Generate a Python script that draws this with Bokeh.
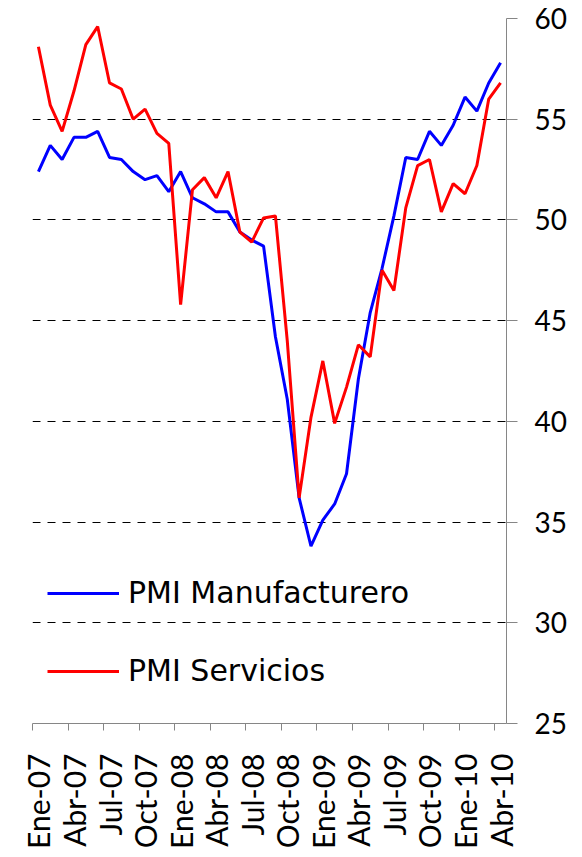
import math
from bokeh.plotting import figure
from bokeh.models import Range1d, FixedTicker, Legend, LegendItem
from bokeh.embed import file_html
from bokeh.resources import INLINE

months = [
    "Ene-07", "Feb-07", "Mar-07", "Abr-07", "May-07", "Jun-07", "Jul-07", "Ago-07", "Sep-07", "Oct-07", "Nov-07", "Dic-07",
    "Ene-08", "Feb-08", "Mar-08", "Abr-08", "May-08", "Jun-08", "Jul-08", "Ago-08", "Sep-08", "Oct-08", "Nov-08", "Dic-08",
    "Ene-09", "Feb-09", "Mar-09", "Abr-09", "May-09", "Jun-09", "Jul-09", "Ago-09", "Sep-09", "Oct-09", "Nov-09", "Dic-09",
    "Ene-10", "Feb-10", "Mar-10", "Abr-10",
]

manufacturing = [
    52.4, 53.7, 53.0, 54.1, 54.1, 54.4, 53.1, 53.0, 52.4, 52.0, 52.2, 51.4,
    52.4, 51.1, 50.8, 50.4, 50.4, 49.4, 49.0, 48.7, 44.2, 41.1, 36.2, 33.8,
    35.1, 35.9, 37.4, 42.1, 45.4, 47.6, 50.2, 53.1, 53.0, 54.4, 53.7, 54.7,
    56.1, 55.4, 56.8, 57.8,
]

services = [
    58.6, 55.7, 54.4, 56.4, 58.7, 59.6, 56.8, 56.5, 55.0, 55.5, 54.3, 53.8,
    45.8, 51.5, 52.1, 51.1, 52.4, 49.4, 48.9, 50.1, 50.2, 44.0, 36.2, 40.2,
    43.0, 39.9, 41.7, 43.8, 43.2, 47.5, 46.5, 50.6, 52.7, 53.0, 50.4, 51.8,
    51.3, 52.7, 56.0, 56.8,
]

y_ticks = [25, 30, 35, 40, 45, 50, 55, 60]
label_every = 3

x = list(range(len(months)))
label_pos = list(range(0, len(months), label_every))
boundary_pos = [i - 0.5 for i in label_pos]

FONT = "Lato"
AXIS_GREY = "#868686"

p = figure(
    width=574, height=853,
    output_backend="svg", toolbar_location=None,
    x_range=Range1d(-0.5, len(months) - 0.5),
    y_range=Range1d(25, 60),
    y_axis_location="right",
    min_border_left=32, min_border_top=18, min_border_right=68, min_border_bottom=130,
)
p.outline_line_color = None
p.background_fill_color = "white"
p.border_fill_color = "white"

# x axis
xa = p.xaxis[0]
xa.ticker = FixedTicker(ticks=label_pos, minor_ticks=boundary_pos)
xa.major_label_overrides = {i: months[i] for i in label_pos}
xa.major_label_orientation = math.pi / 2
xa.major_tick_line_color = None
xa.major_tick_out = 7
xa.major_tick_in = 0
xa.minor_tick_line_color = AXIS_GREY
xa.minor_tick_out = 7
xa.minor_tick_in = 0
xa.axis_line_color = AXIS_GREY
xa.major_label_standoff = 23
xa.major_label_text_font = FONT
xa.major_label_text_font_size = "30px"
xa.major_label_text_color = "black"

# y axis
ya = p.yaxis[0]
ya.ticker = FixedTicker(ticks=y_ticks)
ya.minor_tick_line_color = None
ya.major_tick_line_color = AXIS_GREY
ya.major_tick_out = 11
ya.major_tick_in = 0
ya.axis_line_color = AXIS_GREY
ya.major_label_standoff = 17
ya.major_label_text_font = FONT
ya.major_label_text_font_size = "28px"
ya.major_label_text_color = "black"

p.xgrid.grid_line_color = None
p.ygrid.grid_line_color = "black"
p.ygrid.grid_line_dash = "8 7"
p.ygrid.grid_line_width = 1

r_m = p.line(x, manufacturing, line_color="#0000FF", line_width=3)
r_s = p.line(x, services, line_color="#FF0000", line_width=3)

legend = Legend(
    items=[
        LegendItem(label="PMI Manufacturero", renderers=[r_m]),
        LegendItem(label="PMI Servicios", renderers=[r_s]),
    ],
    location=(15, 35),
    orientation="vertical",
    glyph_width=72, glyph_height=34, label_height=34,
    label_standoff=9, spacing=43, padding=0, margin=0,
    label_text_font="DejaVu Sans", label_text_font_size="30px",
    label_text_color="black",
    background_fill_alpha=0, border_line_color=None,
)
p.add_layout(legend)

open("out.html", "w").write(file_html(p, INLINE))
